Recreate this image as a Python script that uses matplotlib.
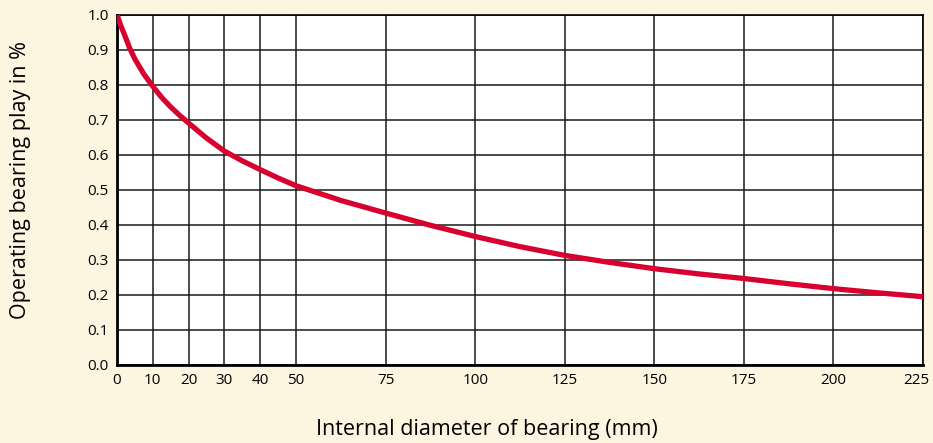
import matplotlib.pyplot as plt
import matplotlib.transforms as mtransforms

# Ablesewerte aus der Vorlage
diameter = [0, 1, 2, 3.5, 5, 7.5, 10, 12.5, 15, 17.5, 20, 25, 30, 35, 40, 45, 50, 62.5, 75, 87.5,
            100, 112.5, 125, 137.5, 150, 162.5, 175, 187.5, 200, 212.5, 225]
play = [1.0, 0.97, 0.945, 0.905, 0.873, 0.830, 0.795, 0.763, 0.736, 0.712, 0.69, 0.647, 0.61, 0.582,
        0.557, 0.533, 0.511, 0.469, 0.433, 0.398, 0.366, 0.337, 0.312, 0.292, 0.274, 0.259, 0.246,
        0.231, 0.217, 0.205, 0.194]

x_ticks = [0, 10, 20, 30, 40, 50, 75, 100, 125, 150, 175, 200, 225]
y_ticks = [0.0, 0.1, 0.2, 0.3, 0.4, 0.5, 0.6, 0.7, 0.8, 0.9, 1.0]

plt.rcParams['font.family'] = ['Open Sans', 'DejaVu Sans']

fig = plt.figure(figsize=(9.33, 4.43), dpi=100, facecolor='#fef5e1')
ax = fig.add_axes([0.1254, 0.177, 0.8639, 0.790])
ax.set_facecolor('white')

ax.plot(diameter, play, color='#d7002e', linewidth=3.8, solid_capstyle='butt',
        solid_joinstyle='round', zorder=3)

ax.set_xlim(0, 225)
ax.set_ylim(0, 1.0)
ax.set_xticks(x_ticks)
ax.set_yticks(y_ticks)
ax.set_yticklabels([f'{v:.1f}' for v in y_ticks])
ax.grid(True, color='#1a1a1a', linewidth=1.1)
ax.tick_params(length=0, labelsize=11, pad=6)
for s in ax.spines.values():
    s.set_linewidth(1.2)
ax.spines['left'].set_linewidth(2)
ax.spines['bottom'].set_linewidth(2)

# letzte Beschriftung etwas nach links, damit sie im Bild bleibt
last = ax.get_xticklabels()[-1]
last.set_transform(last.get_transform() + mtransforms.ScaledTranslation(-0.07, 0, fig.dpi_scale_trans))

fig.text(0.522, 0.03, 'Internal diameter of bearing (mm)', ha='center', va='center', fontsize=15.5)
fig.text(0.022, 0.593, 'Operating bearing play in %', ha='center', va='center', rotation=90, fontsize=15.5)

plt.savefig('out.png', dpi=100, facecolor=fig.get_facecolor())
